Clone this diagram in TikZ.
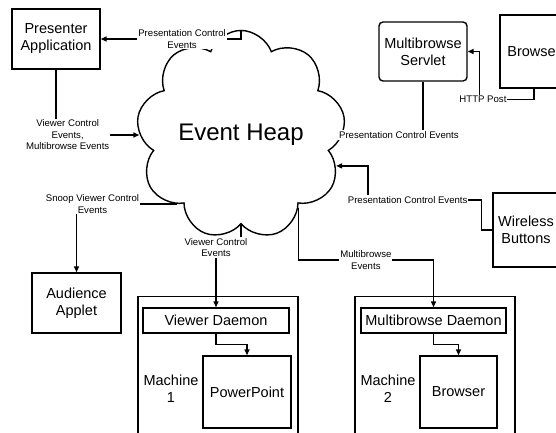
\documentclass[tikz,border=0pt]{standalone}
\usepackage{fontspec}
\setmainfont{Liberation Sans}
\usetikzlibrary{arrows.meta, positioning, shapes.symbols, calc}

\begin{document}
\begin{tikzpicture}[x=1pt, y=-1pt,
    box/.style={rectangle, draw=black, line width=1.4pt, align=center,
        inner sep=0pt, font=\fontsize{14.5}{17}\selectfont},
    holder/.style={rectangle, draw=black, line width=1.4pt,
        minimum width=160pt, minimum height=150pt, anchor=north},
    arr/.style={-{Triangle[length=6pt, width=5pt]}, line width=1.4pt},
    lbl/.style={fill=white, inner sep=1pt, align=center,
        font=\fontsize{9.6}{11.5}\selectfont},
    mlbl/.style={align=center, font=\fontsize{14.5}{17}\selectfont}
]
\clip (0,0) rectangle (556,432);
\node[cloud, cloud puffs=9, cloud puff arc=140, shape border uses incircle,
    inner sep=0pt, draw, line width=1.4pt,
    font=\fontsize{24}{28}\selectfont] (heap) at (241,135) {Event Heap};
\node[box, minimum width=88pt, minimum height=60pt] (pres) at (56,39)
    {Presenter\\Application};
\node[box, rounded corners=4pt, minimum width=88pt, minimum height=59pt]
    (servlet) at (423,51.5) {Multibrowse\\Servlet};
\node[box, minimum width=68pt, minimum height=73pt] (br1) at (534,51.5) {Browser};
\node[box, minimum width=89pt, minimum height=60pt] (aud) at (76.5,303)
    {Audience\\Applet};
\node[box, minimum width=66pt, minimum height=74pt] (wire) at (526,230)
    {Wireless\\Buttons};
\node[holder] (m1) at (218,296) {};
\node[holder] (m2) at (435,296) {};
\node[box, minimum width=146pt, minimum height=25pt] (vd) at (216,320.5)
    {Viewer Daemon};
\node[box, minimum width=145pt, minimum height=25pt] (md) at (433.5,320.5)
    {Multibrowse Daemon};
\node[box, minimum width=88pt, minimum height=72pt] (ppt) at (247,392) {PowerPoint};
\node[box, minimum width=77pt, minimum height=72pt] (br2) at (458.5,392) {Browser};
\node[mlbl] (m1lbl) at (171,388.5) {Machine\\1};
\node[mlbl] (m2lbl) at (388,388.5) {Machine\\2};

\draw[arr] (heap.90) |- node[lbl, pos=0.71] {Presentation Control\\Events} (pres.east);
\draw[arr] (pres.south) |- node[lbl, pos=0.57]
    {Viewer Control\\Events,\\Multibrowse Events} (heap.west);
\draw[arr] (heap.227) -| node[lbl, pos=0.42] {Snoop Viewer Control\\Events} (aud.north);
\draw[arr] (heap.south) -- ++(0,23) -| node[lbl] {Viewer Control\\Events} (vd.north);
\draw[arr] (heap.-52) |- node[lbl, pos=0.75] {Multibrowse\\Events} (md.north |- 0,260)
    -- (md.north);
\draw[arr] (servlet.south) |- node[lbl, pos=0.65] {Presentation Control Events} (heap.east);
\draw[arr] (wire.west) -- ++(-11,0) |- node[lbl, pos=0.825]
    {Presentation Control Events} (368,200) |- (heap.-18);
\draw[arr] (br1.south) -- ++(0,11) -| node[lbl, pos=0.47] {HTTP Post}
    ($(servlet.east)+(12,0)$) -- (servlet.east);
\draw[arr] (vd.south) -- ++(0,11) -| (ppt.north);
\draw[arr] (md.south) -- ++(0,11) -| (br2.north);
\end{tikzpicture}
\end{document}
